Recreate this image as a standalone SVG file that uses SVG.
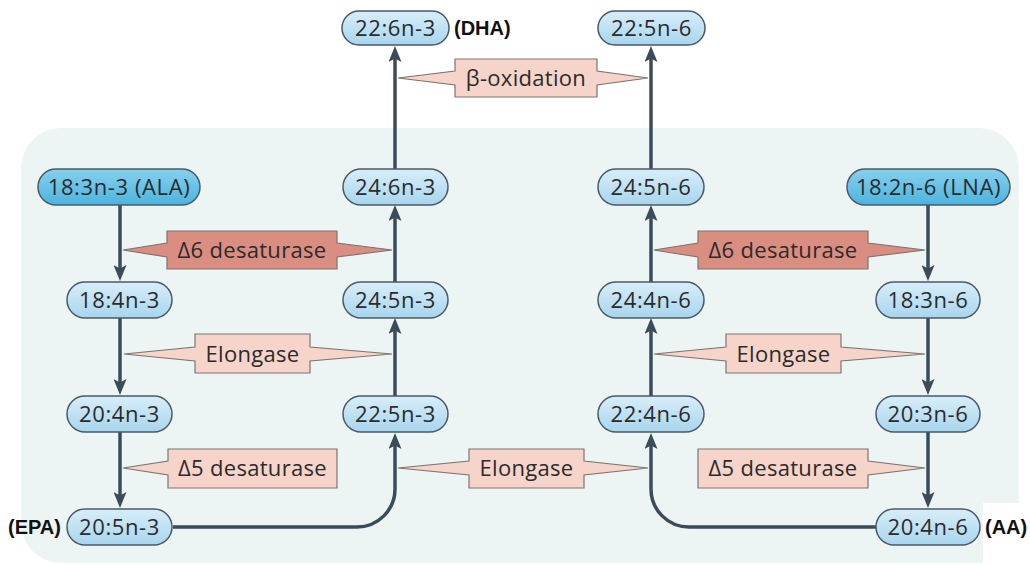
<svg xmlns="http://www.w3.org/2000/svg" width="1030" height="565" viewBox="0 0 1030 565">
<defs>
<linearGradient id="gl" x1="0" y1="0" x2="0" y2="1">
<stop offset="0" stop-color="#d8eef9"/><stop offset="1" stop-color="#a8d5ee"/>
</linearGradient>
<linearGradient id="gd" x1="0" y1="0" x2="0" y2="1">
<stop offset="0" stop-color="#86d0ee"/><stop offset="1" stop-color="#4cb4df"/>
</linearGradient>
<marker id="ah" viewBox="0 0 16 13" refX="8" refY="6.5" markerWidth="16" markerHeight="13" orient="auto" markerUnits="userSpaceOnUse">
<path d="M0,0 L16,6.5 L0,13 L3.5,6.5 Z" fill="#3b4c58"/>
</marker>
<style>
.pill{fill:url(#gl);stroke:#4a5a66;stroke-width:1.5}
.pillD{fill:url(#gd);stroke:#4a5a66;stroke-width:1.5}
.nt{font-family:"Open Sans","Noto Sans",sans-serif;font-size:22px;fill:#2b2b2b;text-anchor:middle;letter-spacing:0.6px}
.bt{font-family:"Liberation Sans",Arial,sans-serif;font-size:20px;font-weight:bold;fill:#111}
.enz{fill:#f6d4ca;stroke:#7c7471;stroke-width:1.2}
.enzD{fill:#da8e81;stroke:#7c7471;stroke-width:1.2}
.et{font-family:"Open Sans","Noto Sans",sans-serif;font-size:22px;fill:#2b2b2b;text-anchor:middle;letter-spacing:0.3px}
.cn{fill:none;stroke:#3b4c58;stroke-width:3.5;marker-end:url(#ah)}
</style>
</defs>
<rect x="21" y="128" width="998" height="435" rx="40" fill="#ecf5f3"/>
<rect x="983" y="503" width="47" height="62" fill="#ffffff"/>

<g id="connectors">
<path class="cn" d="M120,205 V273"/>
<path class="cn" d="M120,318 V387"/>
<path class="cn" d="M120,432 V500"/>
<path class="cn" d="M173,527 H357 A38,38 0 0 0 395,489 V441"/>
<path class="cn" d="M395,396 V326"/>
<path class="cn" d="M395,282 V213"/>
<path class="cn" d="M395,169 V54"/>
<path class="cn" d="M928,205 V273"/>
<path class="cn" d="M928,318 V387"/>
<path class="cn" d="M928,432 V500"/>
<path class="cn" d="M876,527 H689 A38,38 0 0 1 651,489 V441"/>
<path class="cn" d="M651,396 V326"/>
<path class="cn" d="M651,282 V213"/>
<path class="cn" d="M651,169 V54"/>
</g>

<g id="enz-boxidation">
<polygon class="enz" points="398,78 455,71 455,59 597,59 597,71 648,78 597,85 597,97 455,97 455,85"/>
<text class="et" x="526" y="86">β-oxidation</text>
</g>
<g id="enz-d6-left">
<polygon class="enzD" points="123,250 167,243 167,231 337,231 337,243 392,250 337,257 337,269 167,269 167,257"/>
<text class="et" x="252" y="258">Δ6 desaturase</text>
</g>
<g id="enz-elong-left">
<polygon class="enz" points="124,354 195,347 195,334 310,334 310,347 392,354 310,361 310,373 195,373 195,361"/>
<text class="et" x="252.5" y="362">Elongase</text>
</g>
<g id="enz-d5-left">
<polygon class="enz" points="123,468 168,461 168,449 337,449 337,488 168,488 168,475"/>
<text class="et" x="252.5" y="476">Δ5 desaturase</text>
</g>
<g id="enz-elong-mid">
<polygon class="enz" points="398,468 469,461 469,449 584,449 584,461 648,468 584,475 584,488 469,488 469,475"/>
<text class="et" x="526.5" y="476">Elongase</text>
</g>
<g id="enz-d6-right">
<polygon class="enzD" points="654,250 698,243 698,231 868,231 868,243 925,250 868,257 868,269 698,269 698,257"/>
<text class="et" x="783" y="258">Δ6 desaturase</text>
</g>
<g id="enz-elong-right">
<polygon class="enz" points="654,354 726,347 726,334 841,334 841,347 925,354 841,361 841,373 726,373 726,361"/>
<text class="et" x="783.5" y="362">Elongase</text>
</g>
<g id="enz-d5-right">
<polygon class="enz" points="698,449 868,449 868,461 925,468 868,475 868,488 698,488"/>
<text class="et" x="783" y="476">Δ5 desaturase</text>
</g>

<g id="n-22-6n-3">
<rect class="pill" x="342" y="11" width="107" height="34" rx="17"/>
<text class="nt" x="395.5" y="36">22:6n-3</text>
<text class="bt" x="454" y="35">(DHA)</text>
</g>
<g id="n-22-5n-6">
<rect class="pill" x="598" y="11" width="107" height="34" rx="17"/>
<text class="nt" x="651.5" y="36">22:5n-6</text>
</g>

<g id="n-ala">
<rect class="pillD" x="38" y="169" width="162" height="36" rx="18"/>
<text class="nt" x="119" y="195">18:3n-3 (ALA)</text>
</g>
<g id="n-18-4n-3">
<rect class="pill" x="67" y="282" width="105" height="36" rx="18"/>
<text class="nt" x="119.5" y="308">18:4n-3</text>
</g>
<g id="n-20-4n-3">
<rect class="pill" x="67" y="396" width="105" height="36" rx="18"/>
<text class="nt" x="119.5" y="422">20:4n-3</text>
</g>
<g id="n-20-5n-3">
<rect class="pill" x="67" y="509" width="105" height="36" rx="18"/>
<text class="nt" x="119.5" y="535">20:5n-3</text>
<text class="bt" x="8" y="534">(EPA)</text>
</g>
<g id="n-24-6n-3">
<rect class="pill" x="343" y="169" width="105" height="36" rx="18"/>
<text class="nt" x="395.5" y="195">24:6n-3</text>
</g>
<g id="n-24-5n-3">
<rect class="pill" x="343" y="282" width="105" height="36" rx="18"/>
<text class="nt" x="395.5" y="308">24:5n-3</text>
</g>
<g id="n-22-5n-3">
<rect class="pill" x="343" y="396" width="105" height="36" rx="18"/>
<text class="nt" x="395.5" y="422">22:5n-3</text>
</g>

<g id="n-24-5n-6">
<rect class="pill" x="598" y="169" width="106" height="36" rx="18"/>
<text class="nt" x="651" y="195">24:5n-6</text>
</g>
<g id="n-24-4n-6">
<rect class="pill" x="598" y="282" width="106" height="36" rx="18"/>
<text class="nt" x="651" y="308">24:4n-6</text>
</g>
<g id="n-22-4n-6">
<rect class="pill" x="598" y="396" width="106" height="36" rx="18"/>
<text class="nt" x="651" y="422">22:4n-6</text>
</g>
<g id="n-lna">
<rect class="pillD" x="847" y="169" width="163" height="36" rx="18"/>
<text class="nt" x="928.5" y="195">18:2n-6 (LNA)</text>
</g>
<g id="n-18-3n-6">
<rect class="pill" x="876" y="282" width="104" height="36" rx="18"/>
<text class="nt" x="928" y="308">18:3n-6</text>
</g>
<g id="n-20-3n-6">
<rect class="pill" x="876" y="396" width="104" height="36" rx="18"/>
<text class="nt" x="928" y="422">20:3n-6</text>
</g>
<g id="n-20-4n-6">
<rect class="pill" x="876" y="509" width="104" height="36" rx="18"/>
<text class="nt" x="928" y="535">20:4n-6</text>
<text class="bt" x="985" y="534">(AA)</text>
</g>
</svg>
